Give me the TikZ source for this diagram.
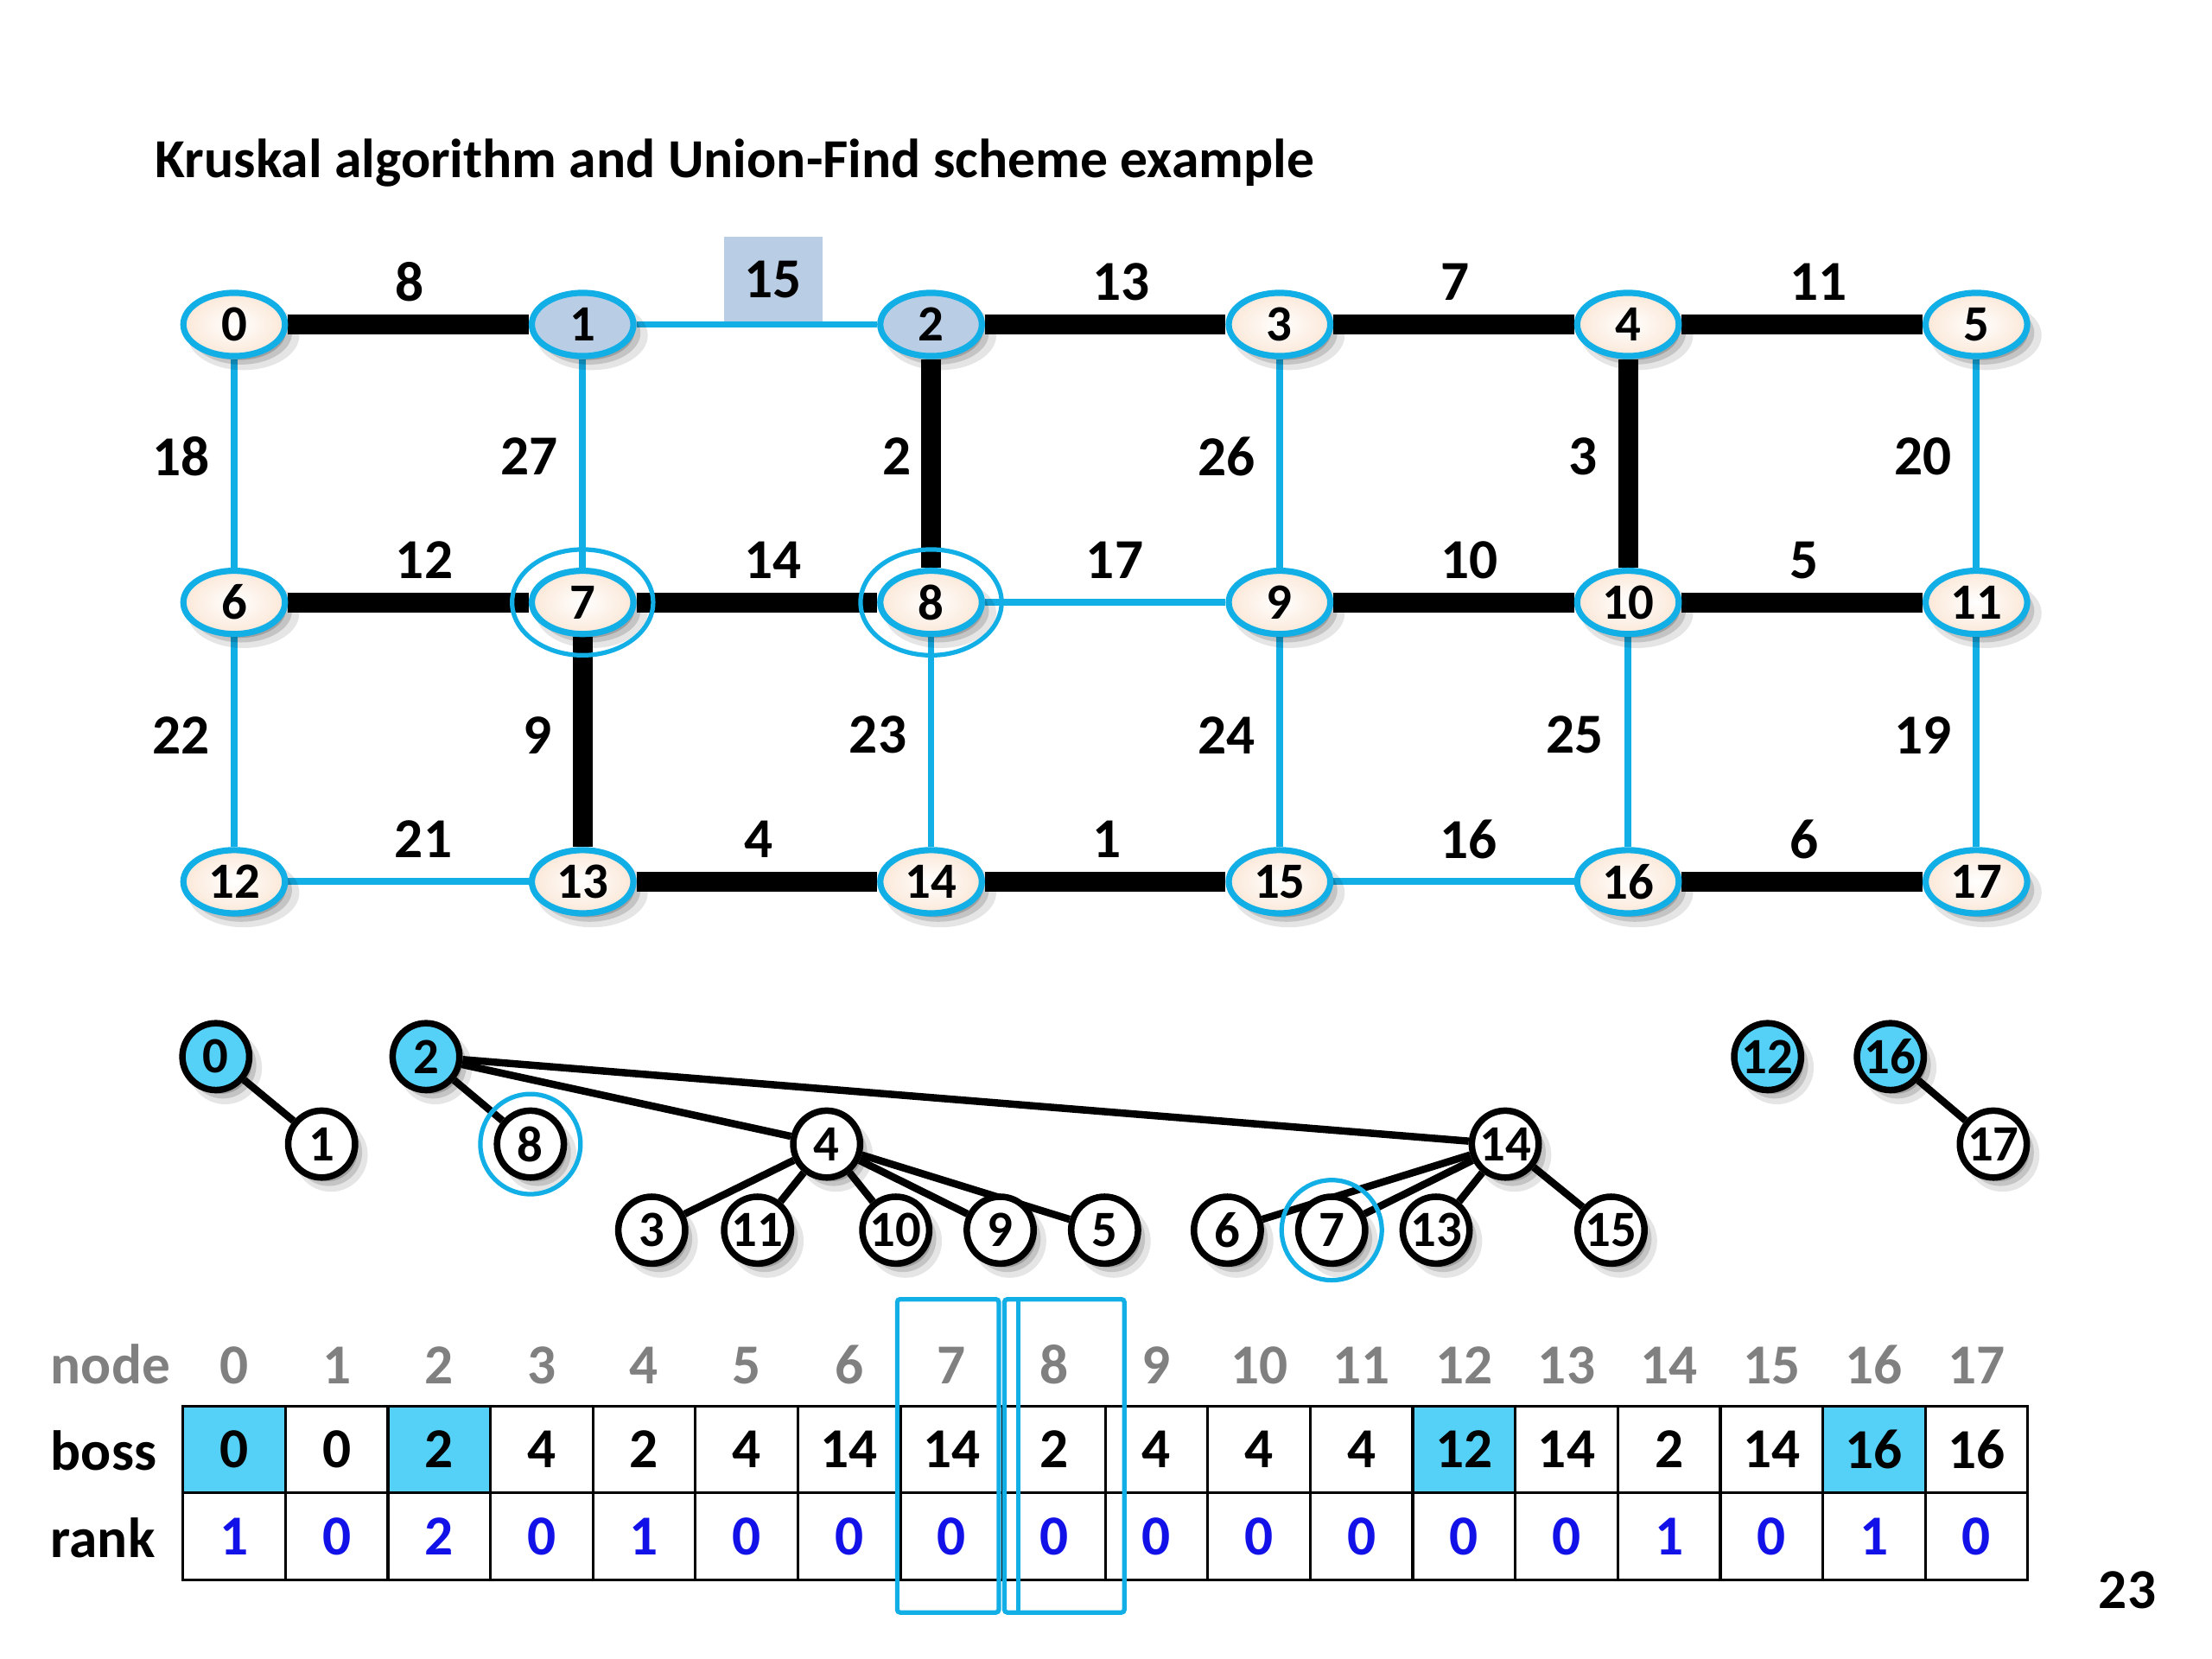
\documentclass[tikz,border=0pt]{standalone}
\usepackage{fontspec}
\setmainfont{Carlito}
\usetikzlibrary{shapes.geometric,shadows}
\pgfdeclarelayer{background}
\pgfsetlayers{background,main}

\begin{document}
\begin{tikzpicture}[
  x=0.5pt, y=-0.5pt,
  font=\bfseries\fontsize{20}{24}\selectfont,
  softshadow/.style={
    general shadow={shadow xshift=3pt, shadow yshift=-3.5pt, shadow scale=1.1, fill=black, opacity=0.1},
    general shadow={shadow xshift=2.5pt, shadow yshift=-3pt, shadow scale=1.0, fill=black, opacity=0.14},
    general shadow={shadow xshift=2pt, shadow yshift=-2.5pt, shadow scale=0.92, fill=black, opacity=0.18}},
  gnode/.style={ellipse, draw=LBlue, line width=2.2pt, inner color=white, outer color=Peach,
    minimum width=36pt, minimum height=22.4pt, inner sep=0pt, font=\bfseries\fontsize{18}{20}\selectfont,
    softshadow},
  gpick/.style={gnode, inner color=Steel, outer color=Steel},
  ring/.style={ellipse, draw=LBlue, line width=1.6pt, minimum width=50pt, minimum height=37.5pt, inner sep=0pt},
  tedge/.style={line width=7pt, draw=black},
  bedge/.style={line width=2.4pt, draw=LBlue},
  hlab/.style={anchor=west, inner sep=0pt, xshift=-8pt, yshift=15pt},
  vlab/.style={anchor=east, inner sep=0pt, xshift=-7.5pt, yshift=2.5pt},
  hbox/.style={fill=Steel, inner sep=0pt, minimum width=35pt, minimum height=30pt, xshift=5.75pt, yshift=16pt},
  tnode/.style={circle, draw=black, line width=2.3pt, fill=white, minimum size=23.7pt, inner sep=0pt,
    font=\bfseries\fontsize{18}{20}\selectfont, softshadow},
  troot/.style={tnode, fill=Cyan},
  tring/.style={circle, draw=LBlue, line width=1.6pt, minimum size=35.5pt, inner sep=0pt},
  tlink/.style={line width=2.6pt, draw=black},
  cell/.style={draw=black, line width=1pt, minimum width=36.33pt, minimum height=30.75pt, inner sep=0pt},
  hdr/.style={anchor=base, text=Grey},
  colbox/.style={draw=LBlue, line width=1.6pt, rounded corners=1pt}
]
\definecolor{LBlue}{HTML}{12AEE6}
\definecolor{Steel}{HTML}{B9CDE5}
\definecolor{Peach}{HTML}{FBE8D8}
\definecolor{Cyan}{HTML}{55D1F7}
\definecolor{RankBlue}{HTML}{1212E8}
\definecolor{Grey}{HTML}{808080}

\begin{pgfonlayer}{background}
\path[use as bounding box, fill=white] (0,0) rectangle (1568,1176);
\end{pgfonlayer}

\node[anchor=base west, font=\bfseries\fontsize{19.5}{23}\selectfont] (title) at (103,126) {Kruskal algorithm and Union-Find scheme example};

% graph
\node[gnode] (g0) at (166,230) {0};
\node[gpick] (g1) at (413,230) {1};
\node[gpick] (g2) at (660,230) {2};
\node[gnode] (g3) at (907,230) {3};
\node[gnode] (g4) at (1154,230) {4};
\node[gnode] (g5) at (1401,230) {5};
\node[gnode] (g6) at (166,427) {6};
\node[gnode] (g7) at (413,427) {7};
\node[gnode] (g8) at (660,427) {8};
\node[gnode] (g9) at (907,427) {9};
\node[gnode] (g10) at (1154,427) {10};
\node[gnode] (g11) at (1401,427) {11};
\node[gnode] (g12) at (166,625) {12};
\node[gnode] (g13) at (413,625) {13};
\node[gnode] (g14) at (660,625) {14};
\node[gnode] (g15) at (907,625) {15};
\node[gnode] (g16) at (1154,625) {16};
\node[gnode] (g17) at (1401,625) {17};
\node[ring] (ring7) at (g7) {};
\node[ring] (ring8) at (g8) {};

\begin{pgfonlayer}{background}
\draw[tedge] (g0) -- node[hlab] {8} (g1);
\draw[bedge] (g1) -- node[hbox] {15} (g2);
\draw[tedge] (g2) -- node[hlab] {13} (g3);
\draw[tedge] (g3) -- node[hlab] {7} (g4);
\draw[tedge] (g4) -- node[hlab] {11} (g5);
\draw[bedge] (g0) -- node[vlab] {18} (g6);
\draw[bedge] (g1) -- node[vlab] {27} (g7);
\draw[tedge] (g2) -- node[vlab, xshift=4pt] {2} (g8);
\draw[bedge] (g3) -- node[vlab] {26} (g9);
\draw[tedge] (g4) -- node[vlab] {3} (g10);
\draw[bedge] (g5) -- node[vlab] {20} (g11);
\draw[tedge] (g6) -- node[hlab] {12} (g7);
\draw[tedge] (g7) -- node[hlab] {14} (g8);
\draw[bedge] (g8) -- node[hlab] {17} (g9);
\draw[tedge] (g9) -- node[hlab] {10} (g10);
\draw[tedge] (g10) -- node[hlab] {5} (g11);
\draw[bedge] (g6) -- node[vlab] {22} (g12);
\draw[tedge] (g7) -- node[vlab] {9} (g13);
\draw[bedge] (g8) -- node[vlab] {23} (g14);
\draw[bedge] (g9) -- node[vlab] {24} (g15);
\draw[bedge] (g10) -- node[vlab] {25} (g16);
\draw[bedge] (g11) -- node[vlab] {19} (g17);
\draw[bedge] (g12) -- node[hlab, xshift=2pt] {21} (g13);
\draw[tedge] (g13) -- node[hlab] {4} (g14);
\draw[tedge] (g14) -- node[hlab] {1} (g15);
\draw[bedge] (g15) -- node[hlab, xshift=2pt] {16} (g16);
\draw[tedge] (g16) -- node[hlab] {6} (g17);
\end{pgfonlayer}

% union-find forest
\node[troot] (t0) at (153,749) {0};
\node[tnode] (t1) at (228,811) {1};
\node[troot] (t2) at (302,749) {2};
\node[tnode] (t8) at (376,811) {8};
\node[tnode] (t4) at (586,811) {4};
\node[tnode] (t3) at (462,872) {3};
\node[tnode] (t11) at (537,872) {11};
\node[tnode] (t10) at (635,872) {10};
\node[tnode] (t9) at (709,872) {9};
\node[tnode] (t5) at (783,872) {5};
\node[tnode] (t14) at (1067,811) {14};
\node[tnode] (t6) at (870,872) {6};
\node[tnode] (t7) at (944,872) {7};
\node[tnode] (t13) at (1018,872) {13};
\node[tnode] (t15) at (1142,872) {15};
\node[troot] (t12) at (1253,749) {12};
\node[troot] (t16) at (1340,749) {16};
\node[tnode] (t17) at (1413,811) {17};
\node[tring] (tring8) at (t8) {};
\node[tring] (tring7) at (t7) {};

\begin{pgfonlayer}{background}
\draw[tlink] (t0) -- (t1);
\draw[tlink] (t2) -- (t8);
\draw[tlink] (t2) -- (t4);
\draw[tlink] (t2) -- (t14);
\draw[tlink] (t4) -- (t3);
\draw[tlink] (t4) -- (t11);
\draw[tlink] (t4) -- (t10);
\draw[tlink] (t4) -- (t9);
\draw[tlink] (t4) -- (t5);
\draw[tlink] (t14) -- (t6);
\draw[tlink] (t14) -- (t7);
\draw[tlink] (t14) -- (t13);
\draw[tlink] (t14) -- (t15);
\draw[tlink] (t16) -- (t17);
\end{pgfonlayer}

% boss / rank table
\node[anchor=base west, text=Grey] (nodelab) at (29,981) {node};
\node[anchor=base west] (bosslab) at (29,1042) {boss};
\node[anchor=base west] (ranklab) at (29,1104) {rank};
\foreach \b/\r [count=\i from 0] in {0/1,0/0,2/2,4/0,2/1,4/0,14/0,14/0,2/0,4/0,4/0,4/0,12/0,14/0,2/1,14/0,16/1,16/0} {
  \ifnum\b=\i \def\cellfill{Cyan}\else\def\cellfill{white}\fi
  \node[hdr] (h\i) at ({166+72.65*\i},981) {\i};
  \node[cell, fill=\cellfill] (b\i) at ({166+72.65*\i},1027.5) {\b};
  \node[cell, text=RankBlue] (r\i) at ({166+72.65*\i},1089) {\r};
}
\draw[colbox] (636,921) rectangle (708,1143);
\draw[colbox] (712,921) rectangle (797,1143);
\draw[colbox] (722,921) -- (722,1143);

\node (page) at (1508,1127) {23};
\end{tikzpicture}
\end{document}
